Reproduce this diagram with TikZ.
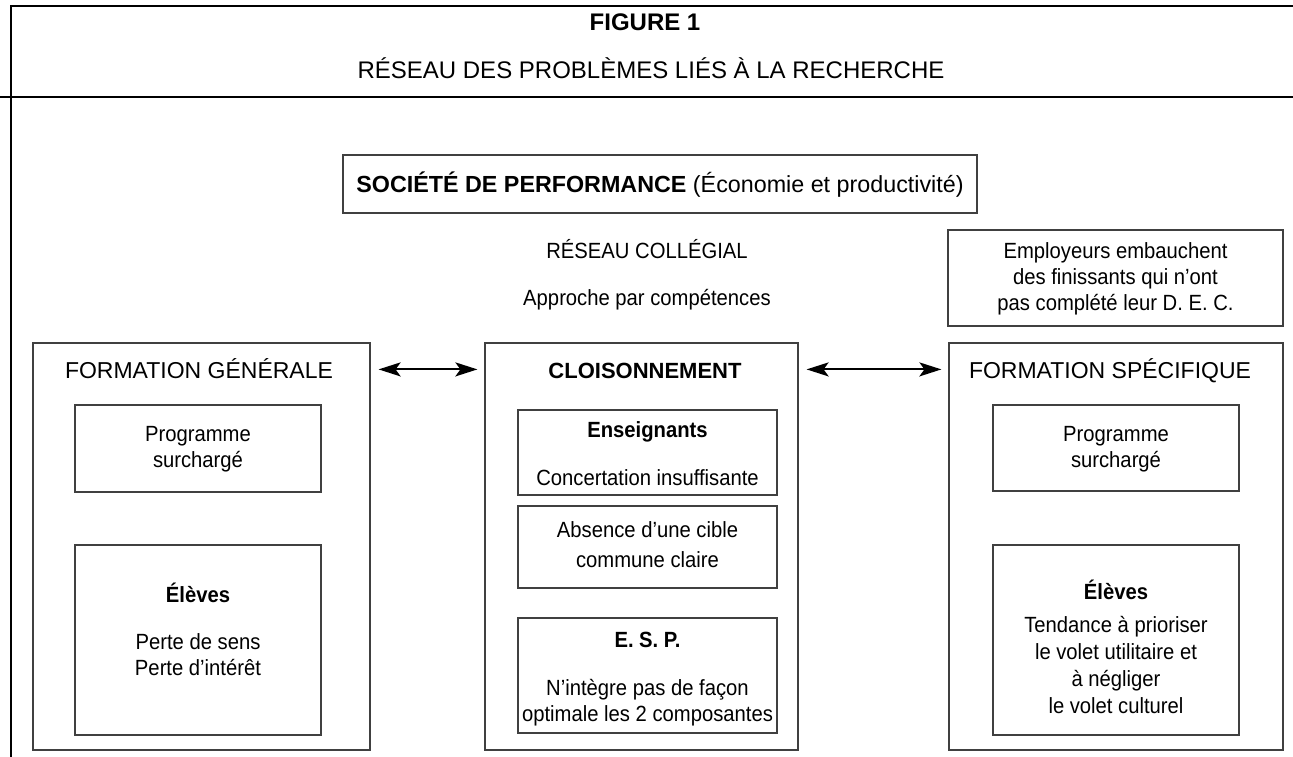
\documentclass[tikz,border=0pt]{standalone}
\usepackage{fontspec}
\setmainfont{Liberation Sans}
\newfontfamily\bodyfont[FakeStretch=0.92]{Liberation Sans}
\usetikzlibrary{arrows.meta}
\begin{document}
\begin{tikzpicture}[x=1pt,y=-1pt,
  box/.style={draw=black!75, line width=1.2pt, inner sep=0pt, minimum width=#1},
  txt/.style={inner sep=0pt, anchor=base, font=\bodyfont\fontsize{22}{26}\selectfont},
  bt/.style={inner sep=0pt, anchor=base, font=\bodyfont\fontsize{22}{26}\selectfont\bfseries},
  head/.style={inner sep=0pt, anchor=base, font=\fontsize{23}{27}\selectfont},
  frame/.style={line width=1.8pt, black},
  arr/.style={{Stealth[length=22pt,width=14pt,inset=5pt]}-{Stealth[length=22pt,width=14pt,inset=5pt]}, line width=2pt, shorten <=8pt, shorten >=7pt}
]
\useasboundingbox (0,0) rectangle (1293,757);
% outer frame
\coordinate (fbl) at (11,757);
\coordinate (ftl) at (11,6);
\coordinate (ftr) at (1293,6);
\draw[frame] (fbl) -- (ftl) -- (ftr);
\coordinate (hl) at (0,97);
\coordinate (hr) at (1293,97);
\draw[line width=1.2pt] (hl) -- (hr);
% titles
\node[inner sep=0pt, anchor=base, font=\fontsize{24}{28}\selectfont\bfseries] (fig) at (645,31) {FIGURE 1};
\node[inner sep=0pt, anchor=base, font=\fontsize{24}{28}\selectfont] (titre) at (651,79) {RÉSEAU DES PROBLÈMES LIÉS À LA RECHERCHE};
% société
\node[box=634pt, minimum height=58pt] (soc) at (660,184) {};
\node[inner sep=0pt, anchor=base, font=\fontsize{23.3}{27}\selectfont] (soct) at (660,192) {\textbf{SOCIÉTÉ DE PERFORMANCE} (Économie et productivité)};
\node[txt] (rc) at (647,258) {RÉSEAU COLLÉGIAL};
\node[txt] (apc) at (647,305) {Approche par compétences};
% employeurs
\node[box=335pt, minimum height=96pt] (emp) at (1115.5,278) {};
\node[txt] (emp1) at (1115.5,258) {Employeurs embauchent};
\node[txt] (emp2) at (1115.5,284) {des finissants qui n’ont};
\node[txt] (emp3) at (1115.5,310) {pas complété leur D. E. C.};
% formation générale
\node[box=337pt, minimum height=407pt] (fg) at (201.5,546.5) {};
\node[head] (fgt) at (199,378) {FORMATION GÉNÉRALE};
\node[box=246pt, minimum height=87pt] (fgp) at (198,448.5) {};
\node[txt] (fgp1) at (198,441) {Programme};
\node[txt] (fgp2) at (198,467) {surchargé};
\node[box=246pt, minimum height=190pt] (fge) at (198,640) {};
\node[bt] (fge0) at (198,602) {Élèves};
\node[txt] (fge1) at (198,649) {Perte de sens};
\node[txt] (fge2) at (198,675) {Perte d’intérêt};
% cloisonnement
\node[box=313pt, minimum height=407pt] (cl) at (641.5,546.5) {};
\node[head, font=\fontsize{22}{26}\selectfont\bfseries] (clt) at (645,378) {CLOISONNEMENT};
\node[box=259pt, minimum height=85pt] (ens) at (647.5,452.5) {};
\node[bt] (ens0) at (647.5,437) {Enseignants};
\node[txt] (ens1) at (647.5,485) {Concertation insuffisante};
\node[box=259pt, minimum height=82pt] (abs) at (647.5,547) {};
\node[txt] (abs1) at (647.5,537) {Absence d’une cible};
\node[txt] (abs2) at (647.5,567) {commune claire};
\node[box=259pt, minimum height=115pt] (esp) at (647.5,675.5) {};
\node[bt] (esp0) at (647.5,647) {E. S. P.};
\node[txt] (esp1) at (647.5,695) {N’intègre pas de façon};
\node[txt] (esp2) at (647.5,721) {optimale les 2 composantes};
% formation spécifique
\node[box=334pt, minimum height=407pt] (fs) at (1116,546.5) {};
\node[head] (fst) at (1110,378) {FORMATION SPÉCIFIQUE};
\node[box=246pt, minimum height=86pt] (fsp) at (1116,448) {};
\node[txt] (fsp1) at (1116,441) {Programme};
\node[txt] (fsp2) at (1116,467) {surchargé};
\node[box=246pt, minimum height=190pt] (fse) at (1116,640) {};
\node[bt] (fse0) at (1116,599) {Élèves};
\node[txt] (fse1) at (1116,632) {Tendance à prioriser};
\node[txt] (fse2) at (1116,659) {le volet utilitaire et};
\node[txt] (fse3) at (1116,686) {à négliger};
\node[txt] (fse4) at (1116,713) {le volet culturel};
% arrows
\draw[arr] ([yshift=-27pt]fg.north east) -- ([yshift=-27pt]cl.north west);
\draw[arr] ([yshift=-27pt]cl.north east) -- ([yshift=-27pt]fs.north west);
\end{tikzpicture}
\end{document}
